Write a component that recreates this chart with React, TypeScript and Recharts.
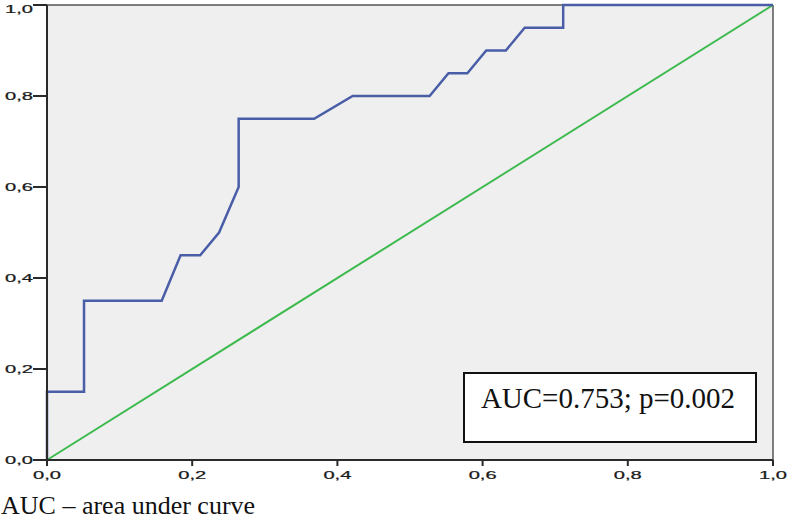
import React from 'react';
import { LineChart, Line, XAxis, YAxis, CartesianGrid, ReferenceLine } from 'recharts';

const fpr = [0, 0, 0.051, 0.051, 0.158, 0.184, 0.211, 0.237, 0.264, 0.264, 0.368, 0.421, 0.527, 0.553, 0.579, 0.605, 0.632, 0.658, 0.711, 0.711, 1.0];
const tpr = [0, 0.15, 0.15, 0.35, 0.35, 0.45, 0.45, 0.5, 0.6, 0.75, 0.75, 0.8, 0.8, 0.85, 0.85, 0.9, 0.9, 0.95, 0.95, 1.0, 1.0];
const refX = [0, 1];
const refY = [0, 1];
const ticks = [0, 0.2, 0.4, 0.6, 0.8, 1.0];
const tickLabels = ['0,0', '0,2', '0,4', '0,6', '0,8', '1,0'];
const annotation = 'AUC=0.753; p=0.002';
const caption = 'AUC \u2013 area under curve';

const rocData = fpr.map((x, i) => ({ x, y: tpr[i] }));
const refData = refX.map((x, i) => ({ x, y: refY[i] }));

const labelFor = (v: number) => {
  const i = ticks.findIndex((t) => Math.abs(t - v) < 1e-9);
  return i >= 0 ? tickLabels[i] : String(v);
};

const XTick = (props: any) => {
  const { x, y, payload } = props;
  return (
    <g transform={`translate(${x},${y})`}>
      <text x={0} y={0} dy={11} textAnchor="middle" transform="scale(1.75,1)" fill="#1a1a1a" stroke="#1a1a1a" strokeWidth={0.25} fontSize={11.5} fontFamily="'Liberation Sans', Arial, sans-serif">
        {labelFor(payload.value)}
      </text>
    </g>
  );
};

const YTick = (props: any) => {
  const { x, y, payload } = props;
  return (
    <g transform={`translate(${x},${y})`}>
      <text x={0} y={0} dy={4} textAnchor="end" transform="scale(1.75,1)" fill="#1a1a1a" stroke="#1a1a1a" strokeWidth={0.25} fontSize={11.5} fontFamily="'Liberation Sans', Arial, sans-serif">
        {labelFor(payload.value)}
      </text>
    </g>
  );
};

export default function App() {
  return (
    <div style={{ position: 'absolute', left: 0, top: 0, width: 788, height: 521, background: '#fff' }}>
      <LineChart width={788} height={521} margin={{ top: 5, right: 15, bottom: 0, left: 0 }}>
        <CartesianGrid fill="#efefef" horizontal={false} vertical={false} />
        <XAxis
          type="number"
          dataKey="x"
          domain={[0, 1]}
          ticks={ticks}
          height={61}
          tickSize={6}
          tickMargin={2}
          stroke="#2a2a2a"
          strokeWidth={2}
          tick={<XTick />}
          allowDuplicatedCategory={false}
        />
        <YAxis
          type="number"
          dataKey="y"
          domain={[0, 1]}
          ticks={ticks}
          width={47}
          tickSize={14}
          tickMargin={0}
          stroke="#2a2a2a"
          strokeWidth={2}
          tick={<YTick />}
        />
        <ReferenceLine y={1} stroke="#555" strokeWidth={1.5} />
        <ReferenceLine x={1} stroke="#555" strokeWidth={1.5} />
        <Line data={refData} dataKey="y" type="linear" stroke="#3dba4e" strokeWidth={2} dot={false} isAnimationActive={false} />
        <Line data={rocData} dataKey="y" type="linear" stroke="#4a5ea8" strokeWidth={2.5} dot={false} isAnimationActive={false} />
      </LineChart>
      <svg width={788} height={521} style={{ position: 'absolute', left: 0, top: 0, pointerEvents: 'none' }}>
        <rect x={464} y={373} width={292} height={69} fill="#fff" stroke="#111" strokeWidth={2} />
        <text x={608} y={408} textAnchor="middle" fontSize={29} fontFamily="'Liberation Serif', 'Times New Roman', serif" fill="#111">
          {annotation}
        </text>
        <text x={1} y={514} fontSize={26} fontFamily="'Liberation Serif', 'Times New Roman', serif" fill="#111">
          {caption}
        </text>
      </svg>
    </div>
  );
}
